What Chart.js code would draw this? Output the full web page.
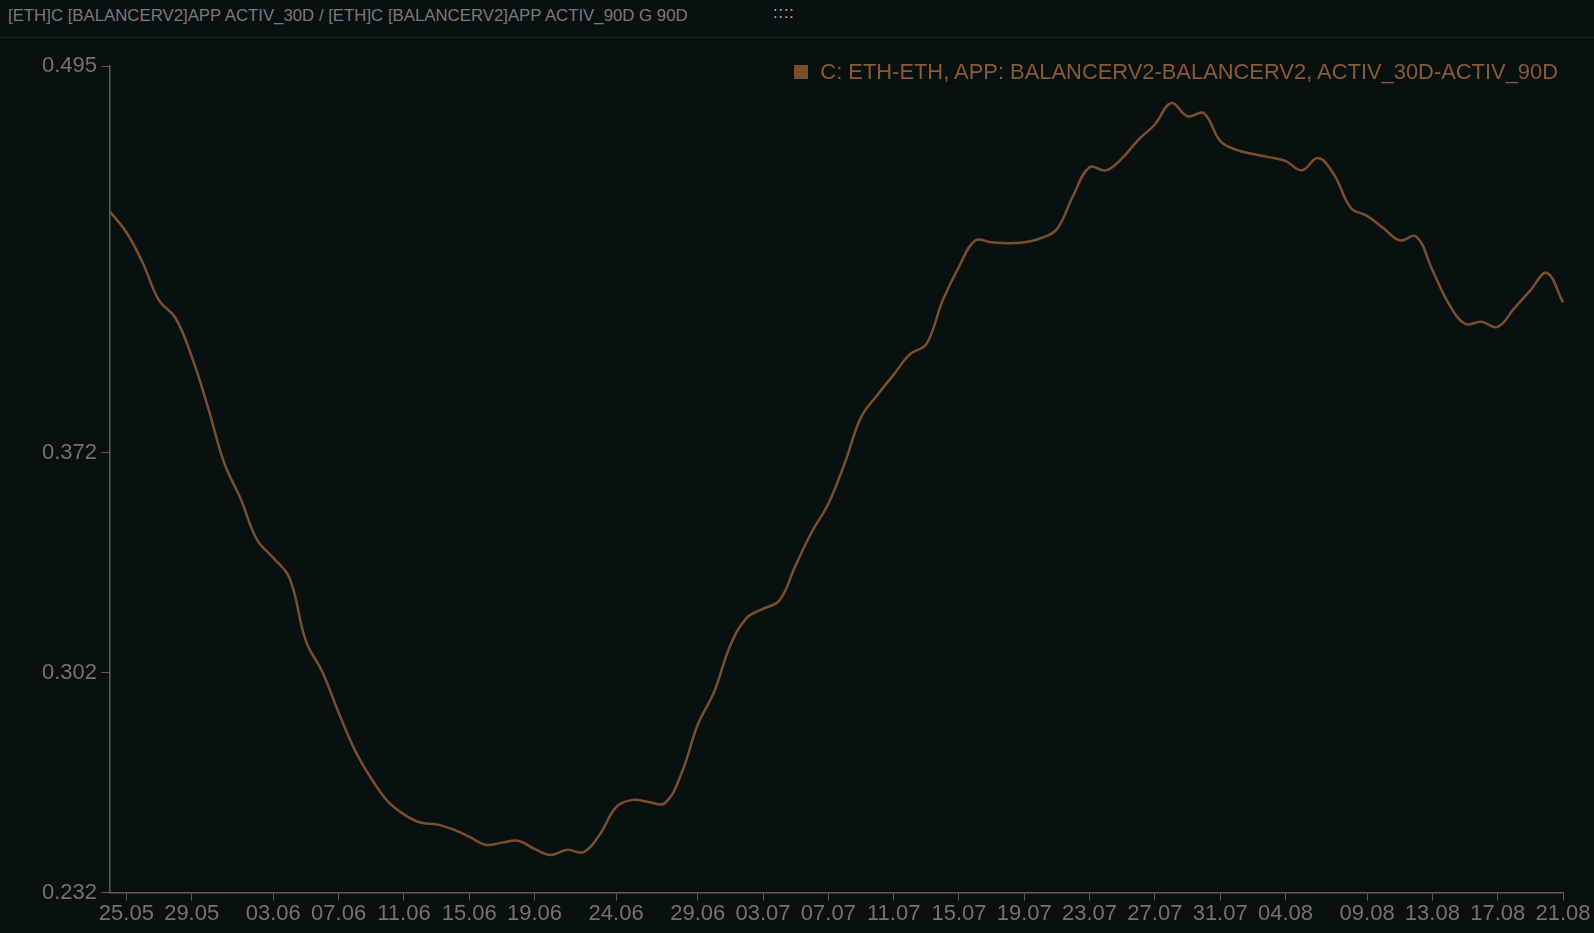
<!DOCTYPE html>
<html>
<head>
<meta charset="utf-8">
<script src="https://cdn.jsdelivr.net/npm/chart.js@4.4.0/dist/chart.umd.min.js"></script>
<style>
  html, body { margin: 0; padding: 0; background: #08110f; overflow: hidden; }
  #bar {
    position: relative; height: 37px; border-bottom: 1px solid #1a2522;
    font-family: "Liberation Sans", Arial, sans-serif; font-size: 16.8px; color: #7a7a7a;
  }
  #bar .title { position: absolute; left: 8px; top: 6px; white-space: nowrap; }
  #bar .grip { position: absolute; left: 773px; top: 4px; color: #b8b8b8; font-size: 16px; letter-spacing: 1px; }
  #wrap { position: relative; width: 1594px; height: 895px; }
  #legend {
    position: absolute; top: 21px; right: 36px; white-space: nowrap;
    font-family: "Liberation Sans", Arial, sans-serif; font-size: 21.9px; color: #8b5a36;
    display: flex; align-items: center;
  }
  #legend i { display: inline-block; width: 14px; height: 14px; margin-right: 12px; }
</style>
</head>
<body>
<div id="bar">
  <span class="title">[ETH]C [BALANCERV2]APP ACTIV_30D / [ETH]C [BALANCERV2]APP ACTIV_90D G 90D</span>
  <span class="grip">::::</span>
</div>
<div id="wrap">
  <canvas id="chart" width="1594" height="895"></canvas>
  <div id="legend"></div>
</div>
<script>
// daily dates 24.05 .. 21.08
const dates = [
  '24.05','25.05','26.05','27.05','28.05','29.05','30.05','31.05',
  '01.06','02.06','03.06','04.06','05.06','06.06','07.06','08.06','09.06','10.06',
  '11.06','12.06','13.06','14.06','15.06','16.06','17.06','18.06','19.06','20.06',
  '21.06','22.06','23.06','24.06','25.06','26.06','27.06','28.06','29.06','30.06',
  '01.07','02.07','03.07','04.07','05.07','06.07','07.07','08.07','09.07','10.07',
  '11.07','12.07','13.07','14.07','15.07','16.07','17.07','18.07','19.07','20.07',
  '21.07','22.07','23.07','24.07','25.07','26.07','27.07','28.07','29.07','30.07',
  '31.07','01.08','02.08','03.08','04.08','05.08','06.08','07.08','08.08','09.08',
  '10.08','11.08','12.08','13.08','14.08','15.08','16.08','17.08','18.08','19.08',
  '20.08','21.08'
];

const ratio = [
  0.4486, 0.4421, 0.4324, 0.4204, 0.4149, 0.4026, 0.3864, 0.3686, 0.3573, 0.3443,
  0.3385, 0.3320, 0.3120, 0.3023, 0.2893, 0.2773, 0.2683, 0.2611, 0.2569, 0.2543,
  0.2537, 0.2521, 0.2498, 0.2472, 0.2479, 0.2485, 0.2459, 0.2440, 0.2456, 0.2449,
  0.2505, 0.2592, 0.2615, 0.2608, 0.2605, 0.2699, 0.2854, 0.2958, 0.3107, 0.3194,
  0.3223, 0.3249, 0.3362, 0.3469, 0.3557, 0.3686, 0.3832, 0.3903, 0.3968, 0.4033,
  0.4065, 0.4204, 0.4311, 0.4395, 0.4389, 0.4386, 0.4389, 0.4402, 0.4431, 0.4538,
  0.4628, 0.4618, 0.4657, 0.4716, 0.4764, 0.4832, 0.4790, 0.4800, 0.4712, 0.4683,
  0.4670, 0.4660, 0.4648, 0.4618, 0.4657, 0.4602, 0.4499, 0.4473, 0.4434, 0.4395,
  0.4408, 0.4301, 0.4194, 0.4130, 0.4136, 0.4120, 0.4178, 0.4236, 0.4292, 0.4198
];

const xTickLabels = ['25.05','29.05','03.06','07.06','11.06','15.06','19.06','24.06','29.06','03.07',
  '07.07','11.07','15.07','19.07','23.07','27.07','31.07','04.08','09.08','13.08','17.08','21.08'];
const yTickValues = [0.232, 0.302, 0.372, 0.495];

const seriesName = 'C: ETH-ETH, APP: BALANCERV2-BALANCERV2, ACTIV_30D-ACTIV_90D';
const lineColor = '#7b4f2e';
const axisColor = '#5c5c5c';
const tickColor = '#737373';
const font = 'Liberation Sans, Arial, sans-serif';

const chart = new Chart(document.getElementById('chart').getContext('2d'), {
  type: 'line',
  data: {
    labels: dates,
    datasets: [{
      label: seriesName,
      data: ratio,
      borderColor: lineColor,
      backgroundColor: lineColor,
      borderWidth: 2.5,
      pointRadius: 0,
      tension: 0.4,
      fill: false
    }]
  },
  options: {
    responsive: false,
    animation: false,
    layout: { padding: { left: 38, right: 31, top: 28, bottom: 6 } },
    plugins: {
      tooltip: { enabled: false },
      legend: { display: false }
    },
    scales: {
      x: {
        type: 'category',
        offset: false,
        grid: { drawOnChartArea: false, drawTicks: true, tickLength: 8, color: axisColor },
        border: { display: true, color: axisColor, width: 1.5 },
        afterBuildTicks: (axis) => {
          axis.ticks = xTickLabels.map(l => ({ value: dates.indexOf(l) }));
        },
        ticks: {
          autoSkip: false,
          maxRotation: 0,
          color: tickColor,
          padding: 0,
          font: { family: font, size: 22 }
        }
      },
      y: {
        min: 0.232,
        max: 0.495,
        grid: { drawOnChartArea: false, drawTicks: true, tickLength: 9, color: axisColor },
        border: { display: true, color: axisColor, width: 1.5 },
        afterBuildTicks: (axis) => {
          axis.ticks = yTickValues.map(v => ({ value: v }));
        },
        ticks: {
          color: tickColor,
          padding: 4,
          font: { family: font, size: 22 },
          callback: (v) => v.toFixed(3)
        }
      }
    }
  }
});

// legend built from the dataset
const ds = chart.data.datasets[0];
document.getElementById('legend').innerHTML =
  '<i style="background:' + ds.borderColor + '"></i>' + ds.label;
</script>
</body>
</html>
